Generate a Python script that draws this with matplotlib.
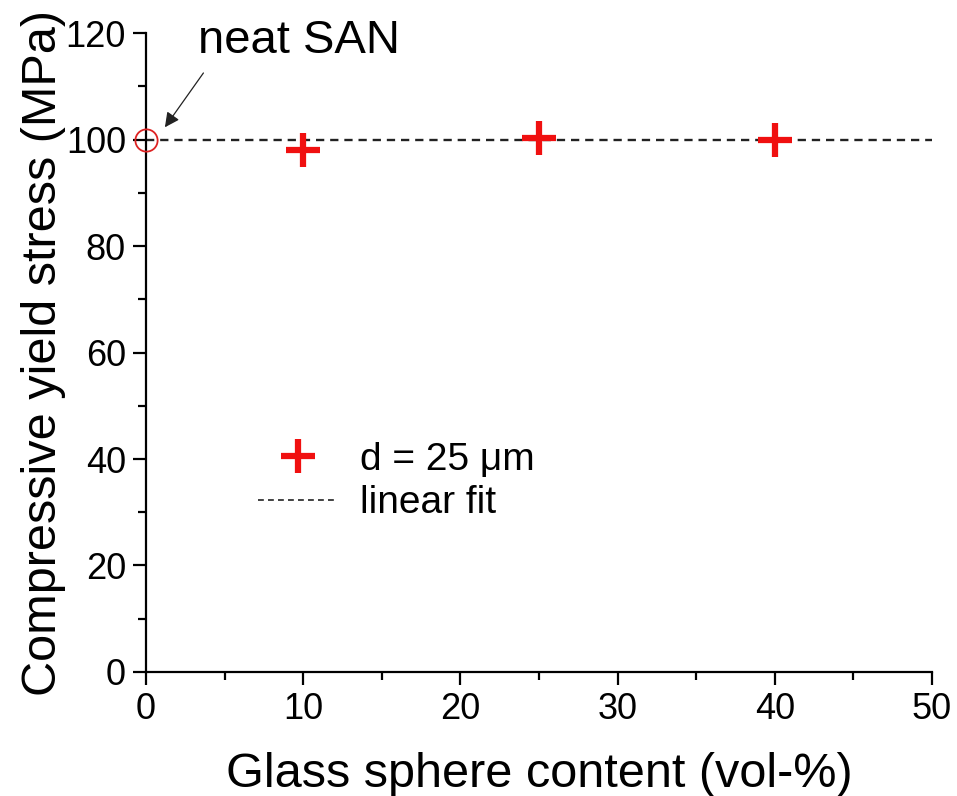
import numpy as np
from matplotlib import pyplot as plt
from matplotlib.lines import Line2D

plt.rcParams['font.family'] = ['Liberation Sans', 'DejaVu Sans']

# Data
content = [10, 25, 40]
stress = [98.0, 100.3, 99.9]
neat_x = [0]
neat_y = [100.0]
fit_x = [0, 50]
fit_y = [100.0, 100.0]

red = '#f01010'
dash = (0, (3.5, 2.5))

fig = plt.figure(figsize=(9.57, 7.96), dpi=100)
ax = fig.add_axes([0.1526, 0.1558, 0.8213, 0.8027])

ax.plot(fit_x, fit_y, ls=dash, color='#222222', lw=1.7)
ax.plot(content, stress, ls='none', marker='+', ms=25, mew=4.5, color=red)
ax.plot(neat_x, neat_y, ls='none', marker='o', ms=16, mfc='none', mec='#dd2222', mew=1.3,
        clip_on=False, zorder=5)

ax.set_xlim(0, 50)
ax.set_ylim(0, 120)
ax.set_xticks(np.arange(0, 51, 10))
ax.set_xticks(np.arange(0, 51, 5), minor=True)
ax.set_yticks(np.arange(0, 121, 20))
ax.set_yticks(np.arange(0, 121, 10), minor=True)
for s in ['top', 'right']:
    ax.spines[s].set_visible(False)
for s in ['left', 'bottom']:
    ax.spines[s].set_linewidth(1.6)
ax.tick_params(which='major', direction='out', length=9.5, width=1.6, labelsize=26, pad=5)
ax.tick_params(which='minor', direction='out', length=6, width=1.6)

ax.set_xlabel('Glass sphere content (vol-%)', fontsize=35, labelpad=18)
ax.set_ylabel('Compressive yield stress (MPa)', fontsize=35, labelpad=0)

# annotation for the unfilled sample
ax.text(3.3, 116.2, 'neat SAN', fontsize=34, ha='left', va='baseline')
ax.annotate('', xy=(1.2, 102.3), xytext=(3.65, 112.5),
            arrowprops=dict(arrowstyle='-|>', color='#222222', lw=0.9, shrinkA=0, shrinkB=0,
                            mutation_scale=22))

handles = [Line2D([], [], ls='none', marker='+', ms=24, mew=4.5, color=red),
           Line2D([], [], ls=dash, color='#222222', lw=1.2)]
ax.legend(handles, ['d = 25 \u03bcm', 'linear fit'], loc='upper left',
          bbox_to_anchor=(0.108, 0.403), frameon=False, fontsize=28,
          handlelength=2.05, handletextpad=0.57, labelspacing=0.2, borderpad=0.2)

fig.savefig('out.png', dpi=100)
